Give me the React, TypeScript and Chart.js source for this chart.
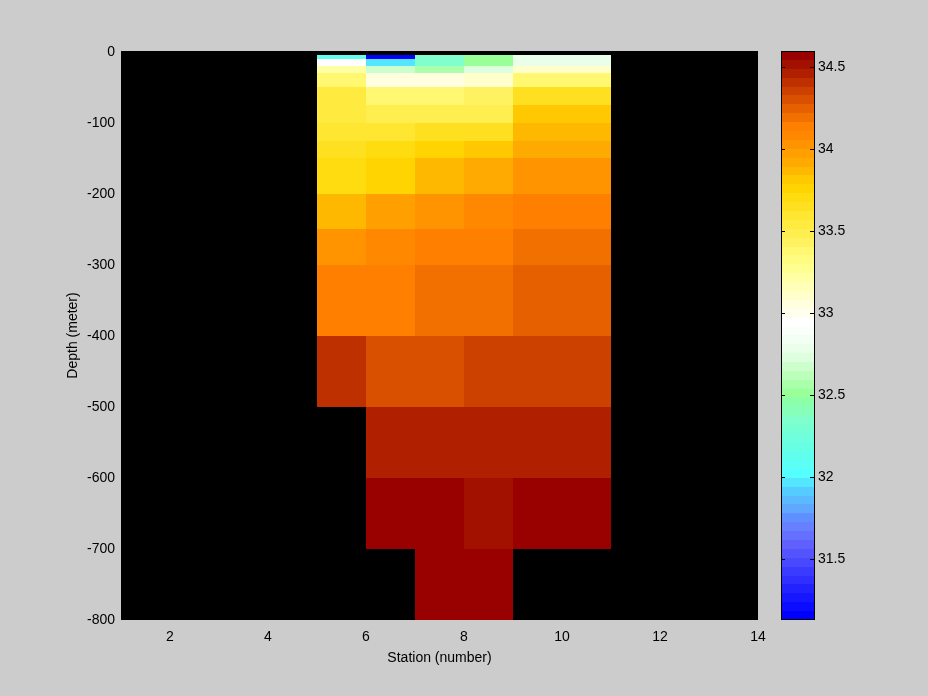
import React, { useEffect, useRef } from "react";
import { Chart, registerables } from "chart.js";

Chart.register(...registerables);

// Station cell edges (the last column spans stations 9 to 11)
const stationEdges = [5, 6, 7, 8, 9, 11];
// Depth cell edges in metres
const depthEdges = [5, 10, 20, 30, 50, 75, 100, 125, 150, 200, 250, 300, 400, 500, 600, 700, 800];

// Salinity per station column, one value per depth cell (null = no data)
const salinitySt5 = [32.13, 32.95, 33.22, 33.38, 33.54, 33.54, 33.6, 33.65, 33.71, 33.87, 34.03, 34.14, 34.41, null, null, null];
const salinitySt6 = [31.13, 31.97, 32.68, 33.05, 33.38, 33.49, 33.6, 33.71, 33.76, 33.98, 34.09, 34.14, 34.3, 34.46, 34.57, null];
const salinitySt7 = [32.35, 32.35, 32.57, 33.05, 33.38, 33.49, 33.65, 33.76, 33.87, 34.03, 34.14, 34.19, 34.3, 34.46, 34.57, 34.57];
const salinitySt8 = [32.51, 32.51, 32.73, 33.11, 33.43, 33.49, 33.65, 33.81, 33.92, 34.09, 34.14, 34.19, 34.36, 34.46, 34.52, 34.57];
const salinitySt9 = [32.78, 32.78, 33.11, 33.38, 33.65, 33.81, 33.87, 33.92, 34.03, 34.14, 34.19, 34.25, 34.36, 34.46, 34.57, null];
const salinityColumns = [salinitySt5, salinitySt6, salinitySt7, salinitySt8, salinitySt9];

const xTicks = [2, 4, 6, 8, 10, 12, 14];
const yTicks = [0, -100, -200, -300, -400, -500, -600, -700, -800];
const cbTicks = [31.5, 32, 32.5, 33, 33.5, 34, 34.5];

const salMin = 31.13;
const salMax = 34.6;
const nLevels = 64;

// Colormap stops: [level index 0..63, colour]
const cmapStops: [number, string][] = [
  [0, "#0000ff"], [3, "#2222ff"], [6, "#4848ff"], [8, "#6060ff"], [9, "#6670ff"],
  [10, "#6680ff"], [11, "#6090ff"], [12, "#60a8ff"], [14, "#55ccff"], [16, "#55ffff"],
  [19, "#66ffe4"], [22, "#80ffcc"], [24, "#8cffaa"], [25, "#99ff99"], [27, "#bbffbb"],
  [29, "#ddffdd"], [31, "#f4fff4"], [32, "#fafffa"], [33, "#ffffff"], [34, "#fffff0"],
  [35, "#ffffe0"], [36, "#ffffcc"], [37, "#ffffb8"], [38, "#ffffa4"], [39, "#ffff90"],
  [40, "#fffc80"], [41, "#fff870"], [42, "#fff260"], [43, "#ffee50"], [44, "#ffea40"],
  [45, "#ffe630"], [46, "#ffe020"], [47, "#ffdc10"], [48, "#ffd400"], [49, "#ffc800"],
  [50, "#ffb800"], [51, "#ffaa00"], [52, "#ffa000"], [53, "#ff9400"], [54, "#ff8800"],
  [55, "#ff7f00"], [56, "#f27000"], [57, "#e66000"], [58, "#d85000"], [59, "#cc4000"],
  [60, "#be3000"], [61, "#b02000"], [62, "#a21000"], [63, "#990000"],
];

const FONT = { family: "'Liberation Sans', Arial, sans-serif", size: 14 };

function hexToRgb(h: string) {
  const n = parseInt(h.slice(1), 16);
  return [(n >> 16) & 255, (n >> 8) & 255, n & 255];
}

function levelColor(i: number) {
  for (let k = 0; k < cmapStops.length - 1; k++) {
    const [a, ca] = cmapStops[k];
    const [b, cb] = cmapStops[k + 1];
    if (i >= a && i <= b) {
      const t = b === a ? 0 : (i - a) / (b - a);
      const A = hexToRgb(ca);
      const B = hexToRgb(cb);
      const c = A.map((v, j) => Math.round(v + (B[j] - v) * t));
      return `rgb(${c[0]},${c[1]},${c[2]})`;
    }
  }
  return cmapStops[cmapStops.length - 1][1];
}

function valueColor(v: number) {
  let i = Math.floor(((v - salMin) / (salMax - salMin)) * nLevels);
  i = Math.max(0, Math.min(nLevels - 1, i));
  return levelColor(i);
}

const heatmapPlugin = {
  id: "heatmap",
  beforeDatasetsDraw(chart: any) {
    const { ctx, chartArea: a, scales } = chart;
    const x = scales.x;
    const y = scales.y;
    ctx.save();
    ctx.fillStyle = "#000000";
    ctx.fillRect(a.left, a.top, a.right - a.left, a.bottom - a.top);
    salinityColumns.forEach((col, c) => {
      const x0 = Math.round(x.getPixelForValue(stationEdges[c]));
      const x1 = Math.round(x.getPixelForValue(stationEdges[c + 1]));
      col.forEach((v, r) => {
        if (v == null) return;
        const y0 = Math.round(y.getPixelForValue(-depthEdges[r]));
        const y1 = Math.round(y.getPixelForValue(-depthEdges[r + 1]));
        ctx.fillStyle = valueColor(v);
        ctx.fillRect(x0, y0, x1 - x0, y1 - y0);
      });
    });
    ctx.restore();
  },
};

const colorbarPlugin = {
  id: "colorbar",
  beforeDatasetsDraw(chart: any) {
    const { ctx, chartArea: a, scales } = chart;
    const y = scales.y;
    const step = (salMax - salMin) / nLevels;
    const edge = (i: number) => Math.floor(y.getPixelForValue(salMin + i * step) + 0.5);
    ctx.save();
    for (let i = 0; i < nLevels; i++) {
      const yBottom = i === 0 ? a.bottom : edge(i);
      const yTop = i === nLevels - 1 ? a.top : edge(i + 1);
      ctx.fillStyle = levelColor(i);
      ctx.fillRect(a.left, yTop, a.right - a.left, yBottom - yTop);
    }
    ctx.strokeStyle = "#000000";
    ctx.lineWidth = 1;
    ctx.strokeRect(a.left + 0.5, a.top + 0.5, a.right - a.left - 1, a.bottom - a.top - 1);
    ctx.beginPath();
    cbTicks.forEach((t) => {
      const py = Math.round(y.getPixelForValue(t)) + 0.5;
      ctx.moveTo(a.left, py);
      ctx.lineTo(a.left + 4, py);
      ctx.moveTo(a.right - 5, py);
      ctx.lineTo(a.right, py);
    });
    ctx.stroke();
    ctx.restore();
  },
};

export default function App() {
  const mainRef = useRef<HTMLCanvasElement>(null);
  const cbRef = useRef<HTMLCanvasElement>(null);

  useEffect(() => {
    const main = new Chart(mainRef.current!, {
      type: "scatter",
      data: { datasets: [] },
      options: {
        responsive: false,
        animation: false,
        layout: { padding: { left: 0, top: 51, right: 170, bottom: 0 } },
        plugins: { legend: { display: false }, tooltip: { enabled: false } },
        scales: {
          x: {
            type: "linear",
            min: 1,
            max: 14,
            afterBuildTicks: (s: any) => {
              s.ticks = xTicks.map((v) => ({ value: v }));
            },
            afterFit: (s: any) => {
              s.height = 76;
            },
            grid: { display: false, drawTicks: false },
            border: { display: false },
            ticks: { color: "#000", font: FONT, padding: 9, maxRotation: 0, callback: (v: any) => String(v) },
            title: { display: true, text: "Station (number)", color: "#000", font: FONT, padding: { top: 0, bottom: 29 } },
          },
          y: {
            type: "linear",
            min: -800,
            max: 1,
            afterBuildTicks: (s: any) => {
              s.ticks = yTicks.map((v) => ({ value: v }));
            },
            afterFit: (s: any) => {
              s.width = 121;
            },
            grid: { display: false, drawTicks: false },
            border: { display: false },
            ticks: { color: "#000", font: FONT, padding: 6, callback: (v: any) => String(v) },
            title: { display: true, text: "Depth (meter)", color: "#000", font: FONT, padding: { top: 65, bottom: 0 } },
          },
        },
      },
      plugins: [heatmapPlugin],
    });

    const cb = new Chart(cbRef.current!, {
      type: "scatter",
      data: { datasets: [] },
      options: {
        responsive: false,
        animation: false,
        layout: { padding: { left: 781, top: 51, right: 53, bottom: 76 } },
        plugins: { legend: { display: false }, tooltip: { enabled: false } },
        scales: {
          x: { type: "linear", display: false, min: 0, max: 1 },
          y: {
            type: "linear",
            position: "right",
            min: salMin,
            max: salMax,
            afterBuildTicks: (s: any) => {
              s.ticks = cbTicks.map((v) => ({ value: v }));
            },
            afterFit: (s: any) => {
              s.width = 60;
            },
            grid: { display: false, drawTicks: false },
            border: { display: false },
            ticks: { color: "#000", font: FONT, padding: 3, callback: (v: any) => String(v) },
          },
        },
      },
      plugins: [colorbarPlugin],
    });

    return () => {
      main.destroy();
      cb.destroy();
    };
  }, []);

  return (
    <div style={{ position: "fixed", left: 0, top: 0, width: 928, height: 696, background: "#cccccc" }}>
      <canvas ref={mainRef} width={928} height={696} style={{ position: "absolute", left: 0, top: 0 }} />
      <canvas ref={cbRef} width={928} height={696} style={{ position: "absolute", left: 0, top: 0 }} />
    </div>
  );
}
